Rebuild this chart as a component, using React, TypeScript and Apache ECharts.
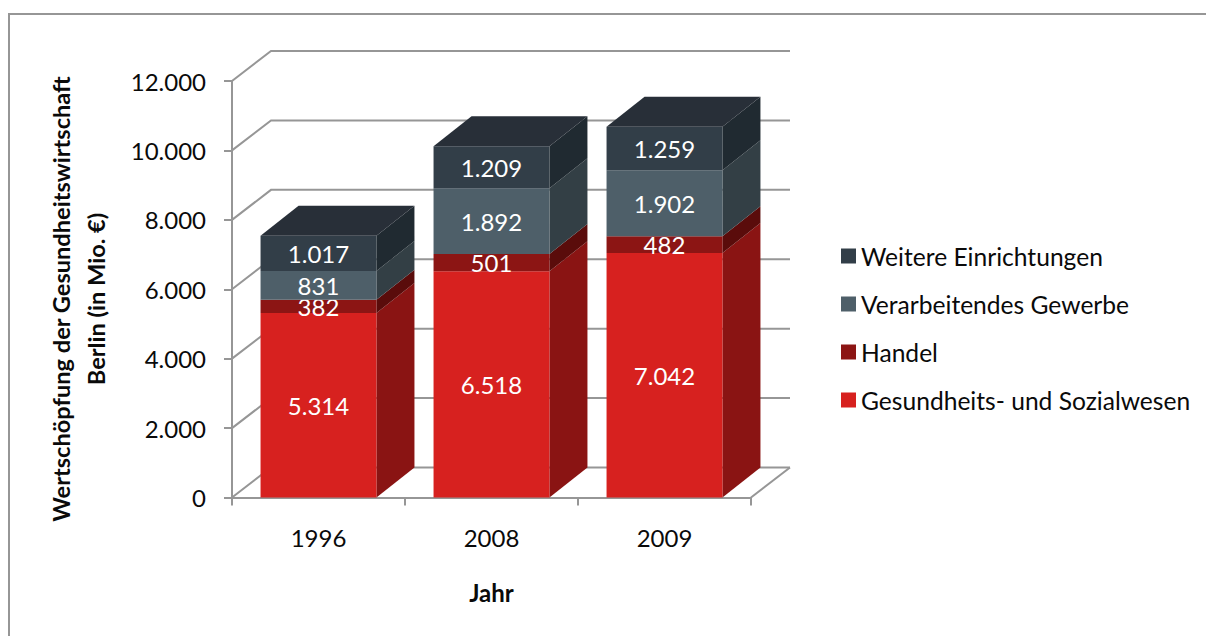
import React, { useEffect, useRef } from "react";
import * as echarts from "echarts";

const categories = ["1996", "2008", "2009"];
const seriesNames = ["Gesundheits- und Sozialwesen", "Handel", "Verarbeitendes Gewerbe", "Weitere Einrichtungen"];
const gesundheit = [5314, 6518, 7042];
const handel = [382, 501, 482];
const gewerbe = [831, 1892, 1902];
const weitere = [1017, 1209, 1259];
const valueTicks = [0, 2000, 4000, 6000, 8000, 10000, 12000];
const frontColors = ["#D7211F", "#8C1514", "#4E5F69", "#323E48"];
const sideColors = ["#8A1413", "#5A0C0B", "#333F45", "#202A31"];
const topColor = "#282F38";

const FONT = "Lato, Carlito, 'Noto Sans', sans-serif";
const GRAY = "#969696";
const INK = "#0A0A0A";
const BAR_DX = 38;
const BAR_DY = 30;
const WALL_DX = 39;
const WALL_DY = 30;

const fmt = (v: number) => String(v).replace(/\B(?=(\d{3})+(?!\d))/g, ".");

export default function App() {
  const ref = useRef<HTMLDivElement>(null);
  useEffect(() => {
    const chart = echarts.init(ref.current!, null, { renderer: "svg" });
    const stacks = [gesundheit, handel, gewerbe, weitere];
    const bases = categories.map(() => 0);

    const barSeries = stacks.map((vals, si) => {
      const data = vals.map((v, ci) => {
        const row = [ci, bases[ci], bases[ci] + v, v];
        bases[ci] += v;
        return row;
      });
      const isTop = si === stacks.length - 1;
      return {
        type: "custom",
        name: seriesNames[si],
        coordinateSystem: "cartesian2d",
        z: 5 + si,
        silent: true,
        clip: false,
        itemStyle: { color: frontColors[si] },
        encode: { x: 0, y: [1, 2] },
        data,
        renderItem: (_p: any, api: any) => {
          const ci = api.value(0);
          const lo = api.coord([ci, api.value(1)]);
          const hi = api.coord([ci, api.value(2)]);
          const w = api.size([1, 0])[0] * 0.67;
          const x0 = lo[0] - w / 2;
          const x1 = lo[0] + w / 2;
          const children: any[] = [
            {
              type: "polygon",
              shape: { points: [[x1, lo[1]], [x1 + BAR_DX, lo[1] - BAR_DY], [x1 + BAR_DX, hi[1] - BAR_DY], [x1, hi[1]]] },
              style: { fill: sideColors[si] },
            },
            {
              type: "rect",
              shape: { x: x0, y: hi[1], width: w, height: lo[1] - hi[1] },
              style: { fill: frontColors[si] },
            },
          ];
          if (isTop) {
            children.push({
              type: "polygon",
              shape: { points: [[x0, hi[1]], [x0 + BAR_DX, hi[1] - BAR_DY], [x1 + BAR_DX, hi[1] - BAR_DY], [x1, hi[1]]] },
              style: { fill: topColor },
            });
          }
          children.push({
            type: "text",
            z2: 50,
            style: {
              text: fmt(api.value(3)),
              x: lo[0],
              y: (lo[1] + hi[1]) / 2,
              fill: "#FFFFFF",
              font: `24px ${FONT}`,
              lineHeight: 20,
              align: "center",
              verticalAlign: "middle",
            },
          });
          return { type: "group", children };
        },
      };
    });

    const wallSeries = {
      type: "custom",
      coordinateSystem: "cartesian2d",
      z: 1,
      silent: true,
      clip: false,
      encode: { x: 0, y: 1 },
      data: valueTicks.map((t) => [0, t]),
      renderItem: (p: any, api: any) => {
        const cs = p.coordSys;
        const y = api.coord([0, api.value(1)])[1];
        const xl = cs.x;
        const xr = cs.x + cs.width;
        const children: any[] = [
          {
            type: "polyline",
            shape: { points: [[xl, y], [xl + WALL_DX, y - WALL_DY], [xr + WALL_DX, y - WALL_DY]] },
            style: { stroke: GRAY, lineWidth: 2, fill: "none" },
          },
        ];
        if (api.value(1) === 0) {
          children.push({
            type: "line",
            shape: { x1: xr, y1: y, x2: xr + WALL_DX, y2: y - WALL_DY },
            style: { stroke: GRAY, lineWidth: 2 },
          });
        }
        return { type: "group", children };
      },
    };

    chart.setOption({
      animation: false,
      backgroundColor: "#FFFFFF",
      textStyle: { fontFamily: FONT },
      grid: { left: 232, right: 455, top: 81, bottom: 138.5 },
      legend: {
        orient: "vertical",
        left: 841,
        top: 242,
        padding: 0,
        itemWidth: 15,
        itemHeight: 15,
        itemGap: 20,
        icon: "rect",
        selectedMode: false,
        data: [...seriesNames].reverse(),
        textStyle: { fontFamily: FONT, fontSize: 24.6, lineHeight: 28, color: INK },
      },
      xAxis: {
        type: "category",
        data: categories,
        name: "Jahr",
        nameLocation: "middle",
        nameGap: 83,
        nameTextStyle: { fontFamily: FONT, fontSize: 24, fontWeight: "bold", color: INK },
        axisLine: { lineStyle: { color: GRAY, width: 2 } },
        axisTick: { show: true, length: 8, lineStyle: { color: GRAY, width: 2 } },
        axisLabel: { fontFamily: FONT, fontSize: 24, color: INK, margin: 28 },
        splitLine: { show: false },
      },
      yAxis: {
        type: "value",
        min: 0,
        max: 12000,
        interval: 2000,
        axisLine: { show: true, lineStyle: { color: GRAY, width: 2 } },
        axisTick: { show: true, length: 8, lineStyle: { color: GRAY, width: 2 } },
        axisLabel: { fontFamily: FONT, fontSize: 24, color: INK, margin: 26, formatter: (v: number) => fmt(v) },
        splitLine: { show: false },
      },
      graphic: [
        {
          type: "rect",
          z: -1,
          silent: true,
          shape: { x: 9, y: 14, width: 1300, height: 700 },
          style: { fill: "none", stroke: GRAY, lineWidth: 2 },
        },
        {
          type: "text",
          silent: true,
          x: 78,
          y: 299,
          rotation: Math.PI / 2,
          style: {
            text: "Wertschöpfung der Gesundheitswirtschaft\nBerlin (in Mio. €)",
            font: `bold 23.6px ${FONT}`,
            lineHeight: 35,
            fill: INK,
            align: "center",
            verticalAlign: "middle",
          },
        },
      ],
      series: [wallSeries, ...barSeries],
    });
    return () => chart.dispose();
  }, []);
  return <div ref={ref} style={{ position: "absolute", left: 0, top: 0, width: 1206, height: 636 }} />;
}
